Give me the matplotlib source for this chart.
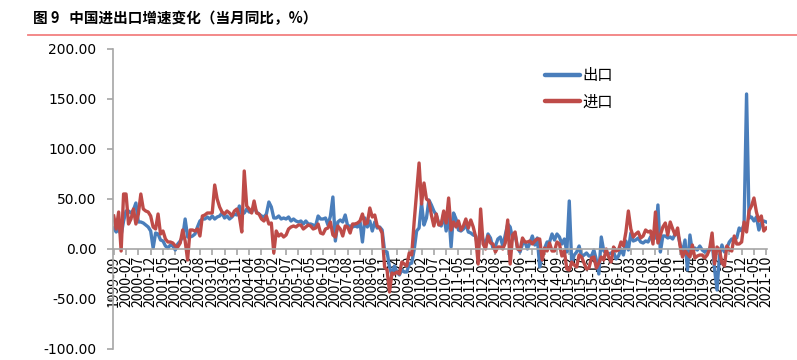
import numpy as np
import pandas as pd
import matplotlib
matplotlib.use('Agg')
import matplotlib.pyplot as plt
from matplotlib.lines import Line2D

plt.rcParams['font.family'] = ['Noto Sans CJK SC', 'DejaVu Sans']

# monthly YoY growth (%), 1999-09 .. 2021-10
months = pd.period_range('1999-09', '2021-10', freq='M').strftime('%Y-%m').tolist()

exports = [
    21, 17, 20, 14,                                    # 1999 Sep-Dec
    28, 38, 38, 36, 39, 46, 27, 27, 26, 24, 22, 18,    # 2000
    1, 16, 15, 9, 8, 3, 1, 4, 3, -1, 5, 8,             # 2001
    12, 30, 12, 12, 13, 15, 22, 28, 30, 30, 32, 30,    # 2002
    33, 30, 32, 33, 36, 31, 33, 30, 32, 35, 34, 43,    # 2003
    35, 36, 40, 37, 37, 42, 37, 35, 33, 32, 35, 47,    # 2004
    42, 31, 31, 33, 30, 31, 30, 32, 28, 30, 28, 27,    # 2005
    28, 25, 28, 25, 25, 24, 23, 33, 30, 30, 31, 24,    # 2006
    33, 52, 8, 27, 29, 27, 34, 23, 23, 22, 23, 22,     # 2007
    27, 7, 31, 22, 28, 18, 27, 21, 22, 19, -2, -3,     # 2008
    -18, -26, -17, -23, -26, -21, -23, -23, -15, -14, -1, 18,  # 2009
    21, 46, 24, 31, 49, 44, 38, 34, 25, 23, 35, 18,    # 2010
    38, 2, 36, 30, 19, 18, 20, 25, 17, 16, 14, 13,     # 2011
    -1, 18, 9, 5, 15, 11, 1, 3, 10, 12, 3, 14,         # 2012
    25, 22, 10, 15, 1, -3, 5, 7, 0, 6, 13, 4,          # 2013
    11, -18, -7, 1, 7, 7, 15, 9, 15, 12, 5, 10,        # 2014
    -3, 48, -15, -6, -3, 3, -8, -6, -4, -7, -7, -1,    # 2015
    -11, -25, 12, -2, -4, -5, -4, -3, -10, -7, 0, -6,  # 2016
    8, -1, 16, 8, 9, 11, 7, 6, 8, 7, 12, 11,           # 2017
    11, 44, -3, 13, 13, 11, 12, 10, 15, 16, 5, -4,     # 2018
    9, -21, 14, -3, 1, -1, 3, -1, -3, -1, -1, 8,       # 2019
    -20, -41, -7, 4, -3, 1, 7, 10, 10, 11, 21, 18,     # 2020
    25, 155, 31, 32, 28, 32, 19, 26, 28, 27,           # 2021 Jan-Oct
]

imports = [
    33, 20, 37, -2,                                    # 1999 Sep-Dec
    55, 55, 25, 30, 40, 25, 35, 55, 40, 38, 37, 33,    # 2000
    22, 20, 35, 15, 18, 10, 7, 7, 6, 3, 2, 6,          # 2001
    19, 8, -11, 19, 19, 18, 20, 13, 33, 34, 36, 36,    # 2002
    36, 64, 50, 42, 37, 35, 38, 36, 33, 38, 40, 33,    # 2003
    17, 78, 43, 40, 36, 48, 36, 35, 30, 28, 33, 25,    # 2004
    26, -4, 18, 13, 15, 12, 14, 20, 22, 23, 22, 24,    # 2005
    24, 20, 22, 24, 23, 20, 21, 25, 16, 15, 20, 21,    # 2006
    27, 14, 12, 23, 20, 13, 23, 22, 16, 25, 25, 26,    # 2007
    28, 35, 25, 26, 41, 32, 34, 23, 21, 16, -18, -21,  # 2008
    -43, -24, -25, -23, -25, -13, -15, -17, -4, -6, 27, 56,  # 2009
    86, 45, 66, 50, 48, 34, 23, 35, 24, 25, 38, 26,    # 2010
    51, 19, 27, 22, 28, 19, 23, 30, 21, 29, 22, 12,    # 2011
    -15, 40, 5, 0, 13, 6, 5, -3, 2, 2, 0, 6,           # 2012
    29, -15, 14, 17, 0, -1, 11, 7, 7, 8, 5, 8,         # 2013
    10, 10, -11, 1, -2, 6, -2, -2, 7, 5, -7, -2,       # 2014
    -20, -21, -13, -16, -18, -6, -8, -14, -20, -19, -9, -8,  # 2015
    -19, -14, -8, -11, 0, -8, -13, 2, -2, -1, 7, 3,    # 2016
    17, 38, 20, 12, 15, 17, 11, 13, 19, 17, 18, 5,     # 2017
    37, 6, 14, 22, 26, 14, 27, 20, 14, 21, 3, -8,      # 2018
    -2, -5, -8, 4, -9, -7, -6, -6, -9, -6, 0, 16,      # 2019
    -15, 2, -1, -14, -17, 3, -1, -2, 13, 5, 5, 7,      # 2020
    27, 17, 38, 43, 51, 37, 28, 33, 18, 21,            # 2021 Jan-Oct
]

title = '图 9   中国进出口增速变化（当月同比，%）'
y_ticks = [-100, -50, 0, 50, 100, 150, 200]

blue = '#4A7EBB'
red = '#BE4B48'
grey = '#A6A6A6'

fig = plt.figure(figsize=(7.97, 3.6), dpi=100)
ax = fig.add_axes([113 / 797, 11 / 360, 654 / 797, 300 / 360])

x = np.arange(len(months))
ax.plot(x, exports, color=blue, lw=2.4, solid_joinstyle='round', label='出口')
ax.plot(x, imports, color=red, lw=2.4, solid_joinstyle='round', label='进口')

ax.set_ylim(-100, 200)
ax.set_xlim(-0.3, len(months) - 0.7)
ax.set_yticks(y_ticks)
ax.set_yticklabels([f'{v:.2f}' for v in y_ticks], family='DejaVu Sans', fontsize=10)

tick_pos = x[::5]
ax.set_xticks(tick_pos)
ax.set_xticklabels([months[i] for i in tick_pos], family='DejaVu Sans', fontsize=9)

for s in ['top', 'right']:
    ax.spines[s].set_visible(False)
ax.spines['bottom'].set_position(('data', 0))
for s in ['left', 'bottom']:
    ax.spines[s].set_color(grey)
    ax.spines[s].set_linewidth(1.2)
ax.tick_params(axis='y', length=4, color=grey, pad=8, width=1.2)
ax.tick_params(axis='x', length=4, color=grey, pad=1, width=1.2, labelrotation=90)

handles = [Line2D([], [], color=blue, lw=3.2, solid_capstyle='round'),
           Line2D([], [], color=red, lw=3.2, solid_capstyle='round')]
ax.legend(handles, ['出口', '进口'], loc='upper left',
          bbox_to_anchor=(424 / 654, 0.965), frameon=False,
          fontsize=11, handlelength=2.3, handletextpad=0.15,
          labelspacing=0.6, borderpad=0)

fig.text(33 / 797, 1 - 18 / 360, title, fontsize=10.5, fontweight='bold',
         va='center', ha='left')
fig.add_artist(Line2D([28 / 797, 1.0], [1 - 35 / 360, 1 - 35 / 360],
                      color='#F28080', lw=1.3, transform=fig.transFigure))

fig.savefig('out.png', dpi=100)
